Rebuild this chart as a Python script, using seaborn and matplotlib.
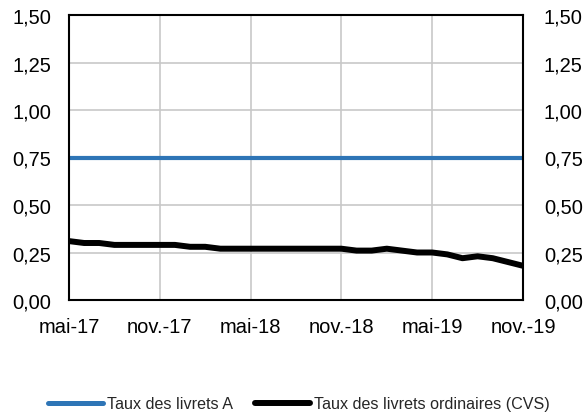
import matplotlib
matplotlib.use("Agg")
import matplotlib.pyplot as plt
import seaborn as sns
import pandas as pd
from matplotlib.lines import Line2D

sns.set_theme(style="white")
plt.rcParams['font.family'] = ['Liberation Sans', 'DejaVu Sans']

months = list(range(31))
tick_labels = ["mai-17", "nov.-17", "mai-18", "nov.-18", "mai-19", "nov.-19"]
livret_a = [0.75] * 31
livret_ord = [0.31, 0.30, 0.30, 0.29, 0.29, 0.29, 0.29, 0.29, 0.28, 0.28,
              0.27, 0.27, 0.27, 0.27, 0.27, 0.27, 0.27, 0.27, 0.27, 0.26,
              0.26, 0.27, 0.26, 0.25, 0.25, 0.24, 0.22, 0.23, 0.22, 0.20, 0.18]
y_ticks = [0.0, 0.25, 0.5, 0.75, 1.0, 1.25, 1.5]
series_names = ["Taux des livrets A", "Taux des livrets ordinaires (CVS)"]
colors = {"Taux des livrets A": "#2E75B6",
          "Taux des livrets ordinaires (CVS)": "#000000"}

df = pd.DataFrame({
    "month": months * 2,
    "value": livret_a + livret_ord,
    "serie": [series_names[0]] * 31 + [series_names[1]] * 31,
})

fig = plt.figure(figsize=(5.87, 4.14), dpi=100)
ax = fig.add_axes([69/587, 1 - 301/414, (523-69)/587, (301-16)/414])

sns.lineplot(data=df, x="month", y="value", hue="serie", palette=colors,
             ax=ax, legend=False)
for line, lw in zip(ax.lines, [3.0, 4.3]):
    line.set_linewidth(lw)
    line.set_solid_capstyle("butt")

ax.set_xlim(0, 30)
ax.set_ylim(0, 1.5)
ax.set_xticks(range(0, 31, 6))
ax.set_xticklabels(tick_labels)
ax.set_yticks(y_ticks)
fmt = lambda v: f"{v:.2f}".replace(".", ",")
ax.set_yticklabels([fmt(v) for v in y_ticks])
ax.grid(True, color="#c8c8c8", linewidth=1.2)
ax.set_axisbelow(True)
for s in ax.spines.values():
    s.set_color("black")
    s.set_linewidth(1.5)
ax.set_xlabel("")
ax.set_ylabel("")
ax.tick_params(axis="y", length=0, labelsize=14.5, colors="black", pad=13)
ax.tick_params(axis="x", length=0, labelsize=14.5, colors="black", pad=12)

ax2 = ax.twinx()
ax2.set_ylim(0, 1.5)
ax2.set_yticks(y_ticks)
ax2.set_yticklabels([fmt(v) for v in y_ticks])
ax2.tick_params(axis="y", length=0, labelsize=14.5, colors="black", pad=15)
for s in ax2.spines.values():
    s.set_visible(False)
ax2.grid(False)

handles = [Line2D([0], [0], color=colors[series_names[0]], lw=3.6, solid_capstyle="round"),
           Line2D([0], [0], color=colors[series_names[1]], lw=4.3, solid_capstyle="round")]
fig.legend(handles, series_names,
           loc="center", bbox_to_anchor=(299/587, 1 - 405/414), ncol=2,
           frameon=False, fontsize=11.6, handlelength=3.4, handletextpad=0.25,
           columnspacing=1.4, borderpad=0, borderaxespad=0)

fig.savefig("out.png", dpi=100)
